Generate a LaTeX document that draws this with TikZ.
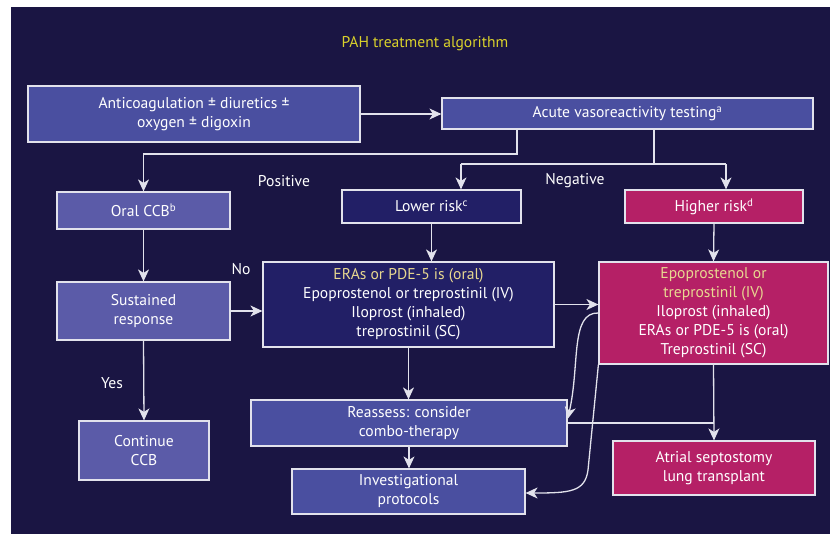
\documentclass[tikz,border=0pt]{standalone}
\usepackage{fontspec}
\setmainfont{PT Sans}
\usetikzlibrary{arrows.meta}

\definecolor{bg}{HTML}{1A1543}
\definecolor{midblue}{HTML}{4A4FA0}
\definecolor{lightblue}{HTML}{5B5BA8}
\definecolor{navybox}{HTML}{221F66}
\definecolor{magenta}{HTML}{B52066}
\definecolor{paleyellow}{HTML}{E8D890}
\definecolor{titleyellow}{HTML}{D9D12B}
\definecolor{edge}{HTML}{E2E2EC}

\tikzset{
  box/.style={draw=edge, line width=1.2pt, align=center, text=white,
    font=\fontsize{15.6}{19}\selectfont, inner sep=0pt},
  lbl/.style={text=white, font=\fontsize{15.6}{19}\selectfont, inner sep=0pt},
  link/.style={draw=edge, line width=1.3pt},
  arr/.style={link, -{Stealth[length=12pt,width=11pt,inset=3.5pt]}},
}

\begin{document}
\begin{tikzpicture}[x=1pt,y=-1pt]
% page and dark panel
\fill[white] (0,0) rectangle (830,535);
\fill[bg] (11,7) rectangle (830,534);
\useasboundingbox (0,0) rectangle (830,535);

\node[text=titleyellow, font=\fontsize{15.6}{19}\selectfont] (title) at (425,44) {PAH treatment algorithm};

% boxes
\node[box, fill=midblue, minimum width=332pt, minimum height=56pt] (anticoag) at (194,114)
  {Anticoagulation ± diuretics ±\\ oxygen ± digoxin};
\node[box, fill=midblue, minimum width=371pt, minimum height=31pt] (acute) at (627.5,113.5)
  {Acute vasoreactivity testing\textsuperscript{a}};
\node[box, fill=lightblue, minimum width=173pt, minimum height=37pt] (oralccb) at (143.5,210.5)
  {Oral CCB\textsuperscript{b}};
\node[box, fill=navybox, minimum width=179pt, minimum height=33pt] (lower) at (431.5,206.5)
  {Lower risk\textsuperscript{c}};
\node[box, fill=magenta, minimum width=178pt, minimum height=33pt] (higher) at (714,206.5)
  {Higher risk\textsuperscript{d}};
\node[box, fill=lightblue, minimum width=173pt, minimum height=58pt] (sustained) at (143.5,311)
  {Sustained\\ response};
\node[box, fill=navybox, minimum width=291pt, minimum height=85pt] (eras) at (408.5,304.5)
  {\textcolor{paleyellow}{ERAs or PDE-5 is (oral)}\\ Epoprostenol or treprostinil (IV)\\ Iloprost (inhaled)\\ treprostinil (SC)};
\node[box, fill=magenta, minimum width=229pt, minimum height=102pt] (epo) at (713.5,313)
  {\textcolor{paleyellow}{Epoprostenol or}\\ \textcolor{paleyellow}{treprostinil (IV)}\\ Iloprost (inhaled)\\ ERAs or PDE-5 is (oral)\\ Treprostinil (SC)};
\node[box, fill=lightblue, minimum width=130pt, minimum height=59pt] (continue) at (144,450.5)
  {Continue\\ CCB};
\node[box, fill=midblue, minimum width=316pt, minimum height=46pt] (reassess) at (409,423)
  {Reassess: consider\\ combo-therapy};
\node[box, fill=midblue, minimum width=233pt, minimum height=45pt] (invest) at (408.5,491.5)
  {Investigational\\ protocols};
\node[box, fill=magenta, minimum width=202pt, minimum height=54pt] (atrial) at (714,468)
  {Atrial septostomy\\ lung transplant};

% branch labels
\node[lbl] (positive) at (284,181) {Positive};
\node[lbl] (negative) at (575,181) {Negative};
\node[lbl] (no) at (241,269) {No};
\node[lbl] (yes) at (112,383) {Yes};

% branch points
\coordinate (pos) at (517,154);
\coordinate (neg) at (654,164);
\coordinate (negl) at (461,164);
\coordinate (negh) at (726,164);

% connectors
\draw[arr] (anticoag.east) -- (anticoag.east -| acute.west);
\draw[arr] (pos |- acute.south) -- (pos) -| (oralccb.north);
\draw[link] (neg |- acute.south) -- (neg);
\draw[link] (negl) -- (negh);
\draw[arr] (negl) -- (negl |- lower.north);
\draw[arr] (negh) -- (negh |- higher.north);
\draw[arr] (oralccb.south) -- (sustained.north);
\draw[arr] (sustained.east) -- (sustained.east -| eras.west);
\draw[arr] (sustained.south) -- (continue.north);
\draw[arr] (lower.south) -- (lower.south |- eras.north);
\draw[arr] (higher.south) -- (epo.north);
\draw[arr] (eras.south) -- (eras.south |- reassess.north);
\draw[arr] (reassess.south) -- (reassess.south |- invest.north);
\draw[arr] (eras.east) -- (eras.east -| epo.west);
\draw[arr] (epo.south) -- (atrial.north);
\draw[link] (reassess.east) -- (reassess.east -| epo.south);

% curved returns from the higher-risk box
\coordinate (c1) at (epo.west |- 0,313);
\coordinate (c1end) at (reassess.east |- 0,419);
\draw[arr] (c1) .. controls (570,312) and (580,365) .. (c1end);
\coordinate (c2) at (epo.south west);
\coordinate (c2mid) at (588,470);
\coordinate (c2end) at (invest.east |- 0,493);
\draw[arr] (c2) -- (c2mid) .. controls (585,492) and (570,493) .. (c2end);
\end{tikzpicture}
\end{document}
